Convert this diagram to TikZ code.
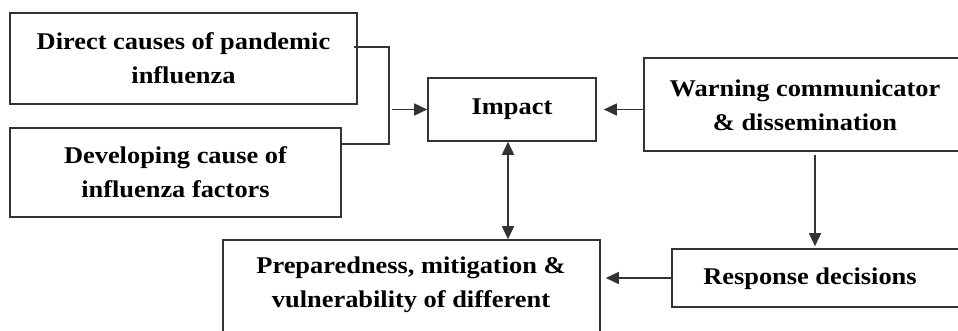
\documentclass[tikz,border=0pt]{standalone}
\usepackage{fontspec}
\setmainfont[FakeStretch=1.1]{Liberation Serif}
\usetikzlibrary{arrows.meta}
\begin{document}
\begin{tikzpicture}[x=1pt,y=-1pt,
  box/.style={draw=black!80, line width=1.6pt, rectangle, inner sep=0pt},
  txt/.style={font=\fontsize{24}{34}\selectfont\bfseries, align=center, inner sep=0pt},
  conn/.style={draw=black!80, line width=1.6pt},
  arr/.style={conn, -{Triangle[length=13pt,width=12pt]}},
  arrb/.style={conn, {Triangle[length=13pt,width=12pt]}-{Triangle[length=13pt,width=12pt]}}]
\useasboundingbox (0,0) rectangle (958,331);
\clip (0,0) rectangle (958,331);
\node[box, minimum width=347pt, minimum height=91pt, txt] (A) at (183.5,58.5) {Direct causes of pandemic\\influenza};
\node[box, minimum width=331pt, minimum height=89pt, txt] (B) at (175.5,172.5) {Developing cause of\\influenza factors};
\node[box, minimum width=168pt, minimum height=63pt, txt] (imp) at (512,109.5) {Impact};
\node[box, minimum width=331pt, minimum height=93pt] (warn) at (809.5,104.5) {};
\node[txt] (warnt) at (805,105) {Warning communicator\\\& dissemination};
\node[box, minimum width=303pt, minimum height=58pt] (resp) at (823.5,278) {};
\node[txt] (respt) at (810,279) {Response decisions};
\node[box, minimum width=377pt, minimum height=105pt] (prep) at (411.5,292.5) {};
\node[txt] (prept) at (411,285) {Preparedness, mitigation \&\\vulnerability of different};
\coordinate (j) at (392,109.5);
\coordinate (dx) at (815,200);
\coordinate (dv) at (508,190);
\draw[conn] ([xshift=-4pt,yshift=11.5pt]A.east) -| ([xshift=47pt,yshift=28.5pt]B.east) -- ([yshift=28.5pt]B.east);
\draw[arr] (j) -- (imp.west);
\draw[arr, shorten >=7pt] (warn.west |- imp.east) -- (imp.east);
\draw[arr, shorten <=3pt, shorten >=2pt] (warn.south -| dx) -- (resp.north -| dx);
\draw[arr, shorten >=5pt] (resp.west) -- (resp.west -| prep.east);
\draw[arrb] (imp.south -| dv) -- (prep.north -| dv);
\end{tikzpicture}
\end{document}
